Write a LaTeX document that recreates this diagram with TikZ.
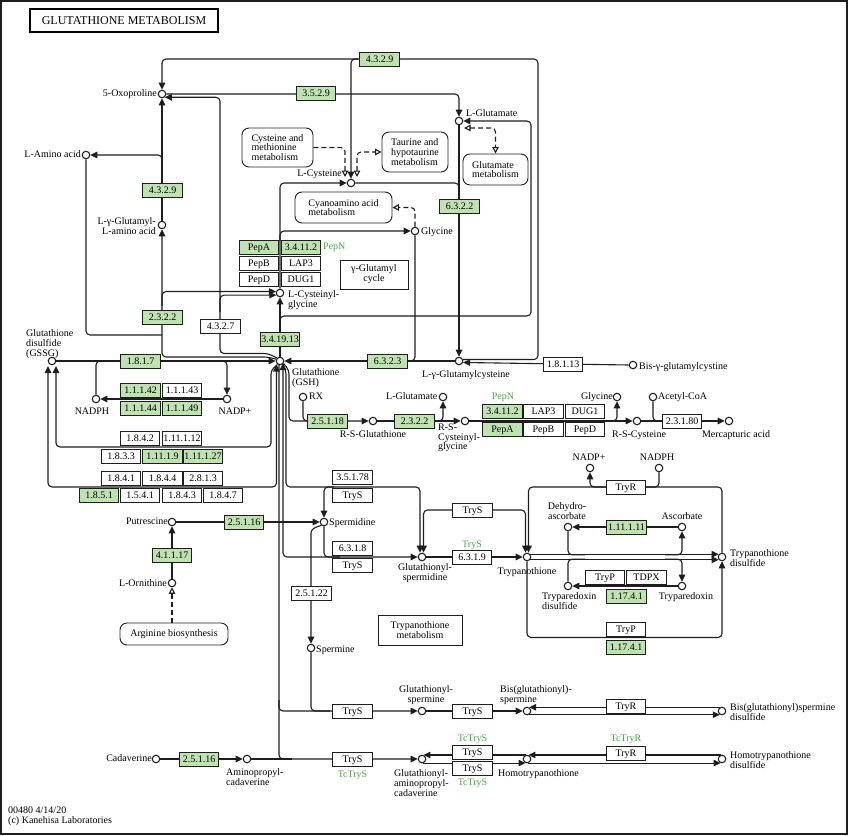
\documentclass[tikz,border=0pt]{standalone}
\usepackage{fontspec}
\setmainfont{Liberation Serif}
\usetikzlibrary{arrows.meta}
\definecolor{kgreen}{RGB}{191,227,176}
\definecolor{kgtext}{RGB}{60,175,60}
\definecolor{kline}{RGB}{30,30,30}
\pgfdeclarelayer{bg}
\pgfsetlayers{bg,main}
\tikzset{
 ln/.style={draw=kline, line width=1.1pt, rounded corners=4pt},
 fa/.style={ln, -{Triangle[length=7pt,width=6.5pt]}},
 fab/.style={ln, {Triangle[length=7pt,width=6.5pt]}-{Triangle[length=7pt,width=6.5pt]}},
 da/.style={ln, dash pattern=on 5pt off 3pt, -{Triangle[open,length=6.5pt,width=6.5pt]}},
 dab/.style={ln, dash pattern=on 5pt off 3pt, {Triangle[open,length=6.5pt,width=6.5pt]}-{Triangle[open,length=6.5pt,width=6.5pt]}},
 cpd/.style={circle, draw=kline, line width=1.1pt, fill=white, inner sep=0pt, minimum size=7.5pt},
 ec/.style={rectangle, draw=kline, line width=0.9pt, fill=white, minimum width=39.5pt, minimum height=14pt, inner sep=0pt, text height=6.8pt, text depth=0.6pt, font=\fontsize{10}{10}\selectfont},
 ecg/.style={ec, fill=kgreen},
 lbl/.style={inner sep=0pt, font=\fontsize{10}{9.8}\selectfont},
 glbl/.style={lbl, text=kgtext},
 mapb/.style={draw=kline, line width=0.9pt, rounded corners=7pt, inner sep=0pt, font=\fontsize{10}{9.8}\selectfont},
 pbox/.style={draw=kline, line width=0.9pt, inner sep=0pt, align=center, font=\fontsize{10}{9.8}\selectfont},
}
\begin{document}
\begin{tikzpicture}[x=1pt,y=-1pt]
\useasboundingbox (0,0) rectangle (848,835);
\draw[line width=1.3pt, draw=kline] (1,1) rectangle (847,834);
\node[draw=black, line width=1.6pt, minimum width=188pt, minimum height=23pt, inner sep=0pt, font=\fontsize{12}{12}\selectfont] (title) at (124,20.5) {GLUTATHIONE METABOLISM};

% compounds
\node[cpd] (c_oxo) at (162,94) {};
\node[cpd] (c_laa) at (86,155) {};
\node[cpd] (c_ggaa) at (162,225) {};
\node[cpd] (c_glu1) at (459,121) {};
\node[cpd] (c_cys) at (351,183) {};
\node[cpd] (c_gly1) at (415,231) {};
\node[cpd] (c_cysgly) at (280,293) {};
\node[cpd] (c_gsh) at (280,361) {};
\node[cpd] (c_ggcys) at (459,361) {};
\node[cpd] (c_gssg) at (52,361) {};
\node[cpd] (c_nadph1) at (96,399) {};
\node[cpd] (c_nadp1) at (227,399) {};
\node[cpd] (c_rx) at (303,397) {};
\node[cpd] (c_rsg) at (373,421) {};
\node[cpd] (c_glu2) at (443,397) {};
\node[cpd] (c_rscg) at (465,421) {};
\node[cpd] (c_gly2) at (617,397) {};
\node[cpd] (c_acoa) at (653,397) {};
\node[cpd] (c_rsc) at (637,421) {};
\node[cpd] (c_merc) at (729,421) {};
\node[cpd] (c_bisgc) at (633,365) {};
\node[cpd] (c_nadp2) at (590,468) {};
\node[cpd] (c_nadph2) at (659,468) {};
\node[cpd] (c_dha) at (568,527) {};
\node[cpd] (c_asc) at (682,527) {};
\node[cpd] (c_tsh) at (527,557) {};
\node[cpd] (c_ts2) at (722,557) {};
\node[cpd] (c_gspd) at (422,557) {};
\node[cpd] (c_trxs) at (568,586) {};
\node[cpd] (c_trx) at (682,586) {};
\node[cpd] (c_spd) at (324,522) {};
\node[cpd] (c_put) at (172,522) {};
\node[cpd] (c_orn) at (172,583) {};
\node[cpd] (c_spm) at (311,648) {};
\node[cpd] (c_gspm) at (422,711) {};
\node[cpd] (c_bgspm) at (527,711) {};
\node[cpd] (c_bgspmd) at (722,711) {};
\node[cpd] (c_cad) at (156,759) {};
\node[cpd] (c_apc) at (247,759) {};
\node[cpd] (c_gapc) at (422,759) {};
\node[cpd] (c_htsh) at (527,759) {};
\node[cpd] (c_htsd) at (722,759) {};

% enzymes
\node[ecg] (e_4329t) at (379.5,59) {4.3.2.9};
\node[ecg] (e_3529) at (316,93.5) {3.5.2.9};
\node[ecg] (e_4329l) at (162.5,190) {4.3.2.9};
\node[ecg] (e_6322) at (459.5,206) {6.3.2.2};
\node[ecg] (e_pepa1) at (259,247) {PepA};
\node[ecg] (e_34112a) at (301,247) {3.4.11.2};
\node[ec] (e_pepb1) at (259,263) {PepB};
\node[ec] (e_lap3a) at (301,263) {LAP3};
\node[ec] (e_pepd1) at (259,279.5) {PepD};
\node[ec] (e_dug1a) at (301,279.5) {DUG1};
\node[ecg] (e_2322a) at (162.5,317) {2.3.2.2};
\node[ec] (e_4327) at (220.5,326.5) {4.3.2.7};
\node[ecg] (e_341913) at (280,339) {3.4.19.13};
\node[ecg] (e_6323) at (387.5,361) {6.3.2.3};
\node[ec] (e_18113) at (563,364) {1.8.1.13};
\node[ecg] (e_1817) at (140.5,361) {1.8.1.7};
\node[ecg] (e_11142) at (140.5,390.5) {1.1.1.42};
\node[ec] (e_11143) at (182,390.5) {1.1.1.43};
\node[ecg] (e_11144) at (140.5,408) {1.1.1.44};
\node[ecg] (e_11149) at (182,408) {1.1.1.49};
\node[ec] (e_1842) at (140,438) {1.8.4.2};
\node[ec] (e_111112) at (182,438) {1.11.1.12};
\node[ec] (e_1833) at (121,456) {1.8.3.3};
\node[ecg] (e_11119) at (162.5,456) {1.11.1.9};
\node[ecg] (e_111127) at (203,456) {1.11.1.27};
\node[ec] (e_1841) at (121,478) {1.8.4.1};
\node[ec] (e_1844) at (162.5,478) {1.8.4.4};
\node[ec] (e_2813) at (203,478) {2.8.1.3};
\node[ecg] (e_1851) at (99,495.5) {1.8.5.1};
\node[ec] (e_1541) at (140,495.5) {1.5.4.1};
\node[ec] (e_1843) at (182,495.5) {1.8.4.3};
\node[ec] (e_1847) at (223,495.5) {1.8.4.7};
\node[ecg] (e_25116a) at (244,522) {2.5.1.16};
\node[ecg] (e_41117) at (172,555.5) {4.1.1.17};
\node[ecg] (e_25118) at (327.5,421) {2.5.1.18};
\node[ecg] (e_2322b) at (414.5,421) {2.3.2.2};
\node[ecg] (e_34112b) at (502.5,411.5) {3.4.11.2};
\node[ec] (e_lap3b) at (543.5,411.5) {LAP3};
\node[ec] (e_dug1b) at (585,411.5) {DUG1};
\node[ecg] (e_pepab) at (502.5,429.5) {PepA};
\node[ec] (e_pepbb) at (543.5,429.5) {PepB};
\node[ec] (e_pepdb) at (585,429.5) {PepD};
\node[ec] (e_23180) at (682,421) {2.3.1.80};
\node[ec] (e_35178) at (352.5,477.5) {3.5.1.78};
\node[ec] (e_trys1) at (352.5,495) {TryS};
\node[ec] (e_trys2) at (472.5,510) {TryS};
\node[ec] (e_6318) at (352.5,548.5) {6.3.1.8};
\node[ec] (e_trys3) at (352.5,565.5) {TryS};
\node[ec] (e_6319) at (472,557) {6.3.1.9};
\node[ec] (e_tryr1) at (626,487) {TryR};
\node[ecg] (e_111111) at (626.5,527) {1.11.1.11};
\node[ec] (e_tryp1) at (605,577.5) {TryP};
\node[ec] (e_tdpx) at (646.5,577.5) {TDPX};
\node[ecg] (e_17141a) at (626.5,596) {1.17.4.1};
\node[ec] (e_tryp2) at (626,629) {TryP};
\node[ecg] (e_17141b) at (626,647) {1.17.4.1};
\node[ec] (e_25122) at (311.5,593.5) {2.5.1.22};
\node[ec] (e_trys4) at (352.5,711) {TryS};
\node[ec] (e_trys5) at (472.5,711) {TryS};
\node[ec] (e_tryr2) at (626,706) {TryR};
\node[ec] (e_trys6) at (352.5,759.5) {TryS};
\node[ec] (e_trys7) at (472.5,752) {TryS};
\node[ec] (e_trys8) at (472.5,768) {TryS};
\node[ec] (e_tryr3) at (626,753) {TryR};
\node[ecg] (e_25116b) at (199,759.5) {2.5.1.16};

% maps and boxes
\node[mapb, minimum width=71pt, minimum height=39pt, align=left] (m_cysmet) at (277.5,147.5) {Cysteine and\\methionine\\metabolism};
\node[mapb, minimum width=66pt, minimum height=40pt, align=left] (m_taur) at (415,152) {Taurine and\\hypotaurine\\metabolism};
\node[mapb, minimum width=65pt, minimum height=31pt, align=left] (m_glum) at (495.5,169.5) {Glutamate\\metabolism};
\node[mapb, minimum width=97pt, minimum height=31pt, align=left] (m_cyano) at (343.5,207.5) {Cyanoamino acid\\metabolism};
\node[mapb, minimum width=108pt, minimum height=22pt] (m_arg) at (174,634) {Arginine biosynthesis};
\node[pbox, minimum width=68pt, minimum height=29pt] (b_ggc) at (374,274.5) {γ-Glutamyl\\cycle};
\node[pbox, minimum width=84pt, minimum height=30pt] (b_tmet) at (420,630) {Trypanothione\\metabolism};

% labels
\node[lbl, anchor=base east] (l_oxo) at (157,96.5) {5-Oxoproline};
\node[lbl, anchor=base east] (l_laa) at (81,157.5) {L-Amino acid};
\node[lbl, anchor=north east, align=right] (l_ggaa) at (156,217.5) {L-γ-Glutamyl-\\L-amino acid};
\node[lbl, anchor=base west] (l_glu1) at (466,116.5) {L-Glutamate};
\node[lbl, anchor=base east] (l_cys) at (342,176.5) {L-Cysteine};
\node[lbl, anchor=base west] (l_gly1) at (421,234) {Glycine};
\node[lbl, anchor=north west, align=left] (l_cysgly) at (288,290.5) {L-Cysteinyl-\\glycine};
\node[lbl, anchor=north west, align=left] (l_gsh) at (292,368.5) {Glutathione\\(GSH)};
\node[lbl, anchor=base] (l_ggcys) at (466,377) {L-γ-Glutamylcysteine};
\node[lbl, anchor=north west, align=left] (l_gssg) at (26,329.5) {Glutathione\\disulfide\\(GSSG)};
\node[lbl, anchor=base] (l_nadph1) at (92,414) {NADPH};
\node[lbl, anchor=base] (l_nadp1) at (235,414) {NADP+};
\node[lbl, anchor=base west] (l_rx) at (309,399.5) {RX};
\node[lbl, anchor=base] (l_rsg) at (373,437.5) {R-S-Glutathione};
\node[lbl, anchor=base east] (l_glu2) at (437.5,399.5) {L-Glutamate};
\node[lbl, anchor=north west, align=left] (l_rscg) at (438,423.5) {R-S-\\Cysteinyl-\\glycine};
\node[lbl, anchor=base east] (l_gly2) at (613,399.5) {Glycine};
\node[lbl, anchor=base west] (l_acoa) at (658,399.5) {Acetyl-CoA};
\node[lbl, anchor=base] (l_rsc) at (639,437.5) {R-S-Cysteine};
\node[lbl, anchor=base] (l_merc) at (736,437.5) {Mercapturic acid};
\node[lbl, anchor=base west] (l_bisgc) at (639,369) {Bis-γ-glutamylcystine};
\node[lbl, anchor=base] (l_nadp2) at (589,460.5) {NADP+};
\node[lbl, anchor=base] (l_nadph2) at (657,460.5) {NADPH};
\node[lbl, anchor=north, align=center] (l_dha) at (567,502.5) {Dehydro-\\ascorbate};
\node[lbl, anchor=base] (l_asc) at (682,519.5) {Ascorbate};
\node[lbl, anchor=base] (l_tsh) at (527,574.5) {Trypanothione};
\node[lbl, anchor=north west, align=left] (l_ts2) at (730,549.5) {Trypanothione\\disulfide};
\node[lbl, anchor=north, align=center] (l_gspd) at (425,563.5) {Glutathionyl-\\spermidine};
\node[lbl, anchor=north west, align=left] (l_trxs) at (542,592.5) {Tryparedoxin\\disulfide};
\node[lbl, anchor=base] (l_trx) at (686,599.5) {Tryparedoxin};
\node[lbl, anchor=base west] (l_spd) at (329,525) {Spermidine};
\node[lbl, anchor=base east] (l_put) at (168,524.5) {Putrescine};
\node[lbl, anchor=base east] (l_orn) at (167,586) {L-Ornithine};
\node[lbl, anchor=base west] (l_spm) at (316,652) {Spermine};
\node[lbl, anchor=north, align=center] (l_gspm) at (426,685.5) {Glutathionyl-\\spermine};
\node[lbl, anchor=north west, align=left] (l_bgspm) at (500,685.5) {Bis(glutathionyl)-\\spermine};
\node[lbl, anchor=north west, align=left] (l_bgspmd) at (730,703.5) {Bis(glutathionyl)spermine\\disulfide};
\node[lbl, anchor=base east] (l_cad) at (152,761) {Cadaverine};
\node[lbl, anchor=north west, align=left] (l_apc) at (226,768.5) {Aminopropyl-\\cadaverine};
\node[lbl, anchor=north west, align=left] (l_gapc) at (394,769.5) {Glutathionyl-\\aminopropyl-\\cadaverine};
\node[lbl, anchor=base west] (l_htsh) at (498,776.5) {Homotrypanothione};
\node[lbl, anchor=north west, align=left] (l_htsd) at (730,751.5) {Homotrypanothione\\disulfide};
\node[glbl, anchor=base west] (g_pepn1) at (323,249.5) {PepN};
\node[glbl, anchor=base] (g_pepn2) at (503,399.5) {PepN};
\node[glbl, anchor=base] (g_trys) at (472,547) {TryS};
\node[glbl, anchor=base] (g_tc1) at (352.5,777) {TcTryS};
\node[glbl, anchor=base] (g_tc2) at (472.5,741) {TcTryS};
\node[glbl, anchor=base] (g_tc3) at (472.5,785.5) {TcTryS};
\node[glbl, anchor=base] (g_tcr) at (626,741) {TcTryR};
\node[lbl, anchor=base west] (f1) at (8,813) {00480 4/14/20};
\node[lbl, anchor=base west] (f2) at (8,823) {(c) Kanehisa Laboratories};

\begin{pgfonlayer}{bg}
% 4.3.2.9 top loop
\draw[fa] (c_ggcys.20) -| (538,59) -| (c_oxo.north);
\draw[fa] (358,59) -| (c_cys.north);
% 3.5.2.9
\draw[fa] (c_oxo.east) -| (c_glu1.north);
% 4.3.2.7
\draw[fa] (c_gsh.135) -- (268,353.5) -- (220,353.5) |- (c_oxo.-50);
\draw[fa] (220,312) |- (c_cysgly.210);
% 4.3.2.9 left
\draw[fa] (c_ggaa.north) -- (c_oxo.south);
\draw[fa] (162,172) |- (c_laa.east);
% 2.3.2.2 left
\draw[fa] (c_gsh.155) -- (268,357) -- (162,357) -- (c_ggaa.south);
\draw[ln] (c_laa.south) |- (162,335);
\draw[fa] (162,306) |- (c_cysgly.160);
% 3.4.19.13
\draw[fa] (c_gsh.north) -- (c_cysgly.south);
\draw[fa] (280,325) |- (531,316) |- (c_glu1.east);
% PepA
\draw[fa] (c_cysgly.north) |- (c_cys.west);
\draw[fa] (280,241) |- (c_gly1.west);
% 6.3.2.2
\draw[fa] (c_glu1.south) -- (c_ggcys.north);
\draw[ln] (c_cys.east) -| (459,196);
% 6.3.2.3
\draw[fa] (c_ggcys.west) -- (c_gsh.east);
\draw[ln] (c_gly1.south) |- (405,361);
% 1.8.1.13
\draw[fa] (c_bisgc.west) -- (c_ggcys.-20);
% dashed map links
\draw[da] (m_cysmet.east) -| (345,177);
\draw[dab] (357,177) |- (m_taur.west);
\draw[da] (c_gly1.north) |- (m_cyano.east);
\draw[dab] (464,128) -| (m_glum.north);
% GSSG / GSH
\draw[fa] (c_gssg.east) -- (c_gsh.west);
\draw[ln] (c_nadph1.north) |- (112,361);
\draw[fa] (210,361) -| (c_nadp1.north);
\draw[fa] (c_nadp1.west) -- (c_nadph1.east);
\draw[fa] (c_gsh.235) -- (271,370) |- (56,447) -- (56,366);
\draw[fab] (276.5,364.5) |- (48,487) -- (48,366);
% long vertical
\draw[fa] (279,364.4) |- (c_gapc.west);
\draw[fa] (279,700) |- (c_gspm.west);
\draw[ln] (c_spm.south) |- (330,711);
\draw[ln] (c_apc.east) -- (292,759);
% glutathionylspermidine
\draw[fab] (283,363) |- (c_gspd.west);
\draw[ln] (c_spd.south) |- (340,557);
% 3.5.1.78
\draw[fa] (c_gsh.-60) -- (286,370) |- (420,487) -- ([xshift=-2pt]c_gspd.north);
\draw[fa] (334,487) -| (c_spd.north);
% 2.5.1.18
\draw[fa] (c_gsh.-35) -- (289,370) |- (c_rsg.west);
\draw[ln] (c_rx.south) |- (312,421);
% 2.3.2.2 mid
\draw[fa] (c_rsg.east) -- (c_rscg.west);
\draw[fa] (433,421) -| (c_glu2.south);
% PepN mid
\draw[fa] (c_rscg.east) -- (c_rsc.west);
\draw[fa] (607,421) -| (c_gly2.south);
% 2.3.1.80
\draw[fa] (c_rsc.east) -- (c_merc.west);
\draw[ln] (c_acoa.south) |- (664,421);
% polyamines
\draw[fa] (c_put.east) -- (c_spd.west);
\draw[fa] (c_orn.north) -- (c_put.south);
\draw[da] (c_orn |- m_arg.north) -- (c_orn.south);
\draw[fa] (c_spd.235) .. controls (314,527) and (311,530) .. (311,537) -- (c_spm.north);
% trypanothione
\draw[fa] (c_gspd.east) -- (c_tsh.west);
\draw[fab] ([xshift=1.5pt]c_gspd.north) |- (500,510) -| ([xshift=-1.5pt]c_tsh.north);
\draw[fa] (c_ts2.north) |- (600,487) -| ([xshift=1.5pt]c_tsh.north);
\draw[ln] (c_nadph2.south) |- (645,487);
\draw[fa] (607,487) -| (c_nadp2.south);
\draw[fa] (c_tsh.south) |- (600,637.5) -| (c_ts2.south);
\draw[fa] (c_tsh.40) -- (c_ts2.140);
\draw[fa] (c_tsh.-40) -- (c_ts2.-140);
\draw[ln] (c_dha.south) |- (585,554.75);
\draw[fa] (665,554.75) -| (c_asc.south);
\draw[ln] (c_trxs.north) |- (585,559.25);
\draw[fa] (665,559.25) -| (c_trx.north);
\draw[fa] (c_asc.west) -- (c_dha.east);
\draw[fa] (c_trx.west) -- (c_trxs.east);
% spermine chain
\draw[fa] (c_gspm.east) -- (c_bgspm.west);
\draw[fa] (c_bgspmd.120) -- (c_bgspm.60);
\draw[fa] (c_bgspm.-60) -- (c_bgspmd.-120);
% cadaverine chain
\draw[fa] (c_cad.east) -- (c_apc.west);
\draw[fa] (c_htsh.110) -- (c_gapc.70);
\draw[fa] (c_gapc.-70) -- (c_htsh.-110);
\draw[fa] (c_htsd.110) -- (c_htsh.70);
\draw[fa] (c_htsh.-70) -- (c_htsd.-110);
\end{pgfonlayer}
\end{tikzpicture}
\end{document}
